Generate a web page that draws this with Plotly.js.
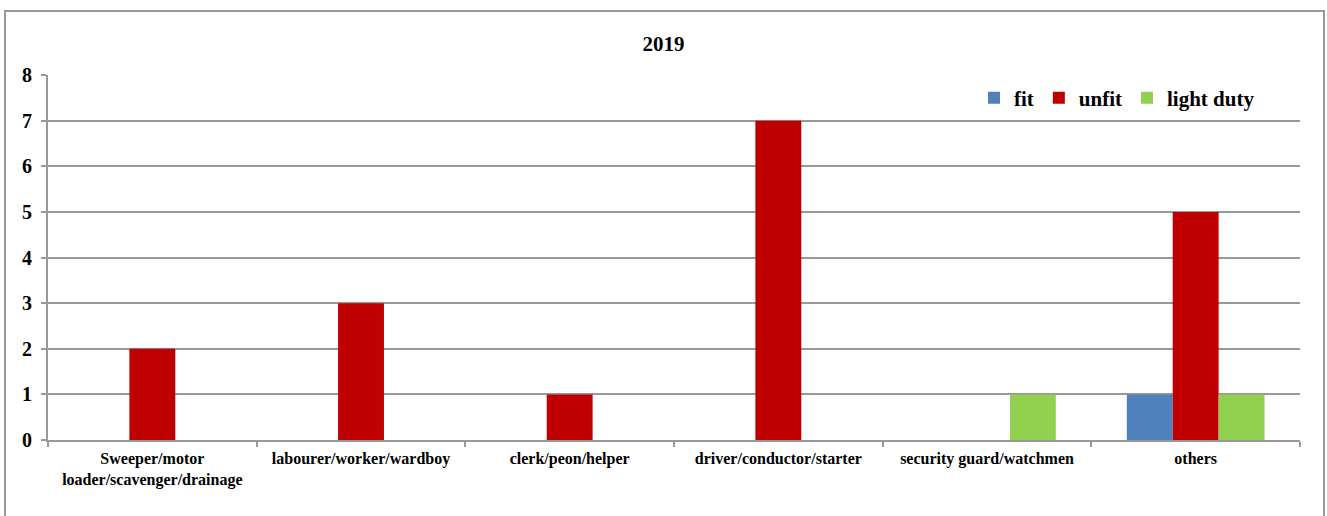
<!DOCTYPE html>
<html><head><meta charset="utf-8">
<script src="https://cdn.plot.ly/plotly-3.0.1.min.js"></script>
<style>html,body{margin:0;padding:0;background:#fff}#chart{width:1327px;height:516px}</style>
</head><body><div id="chart"></div>
<script>
const categories = ["Sweeper/motor<br>loader/scavenger/drainage","labourer/worker/wardboy","clerk/peon/helper","driver/conductor/starter","security guard/watchmen","others"];
const fitValues = [0,0,0,0,0,1];
const unfitValues = [2,3,1,7,0,5];
const lightDutyValues = [0,0,0,0,1,1];
const yTicks = [0,1,2,3,4,5,6,7,8];

const font = {family:"Liberation Serif, Times New Roman, serif", color:"#000", weight:"bold"};
const traces = [
  {type:"bar", name:"fit", x:categories, y:fitValues, marker:{color:"#4F81BD"}},
  {type:"bar", name:"unfit", x:categories, y:unfitValues, marker:{color:"#C00000"}},
  {type:"bar", name:"light duty", x:categories, y:lightDutyValues, marker:{color:"#92D050"}}
];
const layout = {
  width:1327, height:516,
  margin:{l:48, r:27, t:75, b:76},
  paper_bgcolor:"#fff", plot_bgcolor:"#fff",
  title:{text:"2019", font:Object.assign({}, font, {size:21}), x:0.5, xanchor:"center", y:1-44/516, yanchor:"middle"},
  barmode:"group", bargap:0.34, bargroupgap:0,
  showlegend:true,
  legend:{orientation:"h", x:(1260-48)/1252, xanchor:"right", y:(440-98)/365, yanchor:"middle", font:Object.assign({}, font, {size:21}), itemwidth:30, tracegroupgap:0, bgcolor:"rgba(0,0,0,0)"},
  xaxis:{type:"category", tickson:"boundaries", ticks:"outside", ticklen:5, tickcolor:"#999", tickwidth:2,
    ticklabelstandoff:3,
    showline:true, linecolor:"#999", linewidth:2, showgrid:false, tickfont:Object.assign({}, font, {size:16}), fixedrange:true},
  yaxis:{range:[0,8], tickvals:yTicks, ticktext:yTicks.map(String), ticks:"outside", ticklen:5, tickcolor:"#999", tickwidth:2,
    ticklabelstandoff:5,
    showline:true, linecolor:"#999", linewidth:2, showgrid:true, gridcolor:"#999", gridwidth:2, zeroline:false,
    tickfont:Object.assign({}, font, {size:20}), fixedrange:true},
  shapes:[{type:"rect", xref:"paper", yref:"paper", x0:(5-48)/1252, x1:(1324-48)/1252, y0:(440-530)/365, y1:(440-11)/365,
    line:{color:"#999", width:2}, fillcolor:"rgba(0,0,0,0)", layer:"below"}]
};
Plotly.newPlot("chart", traces, layout, {displayModeBar:false, staticPlot:true});
</script></body></html>
